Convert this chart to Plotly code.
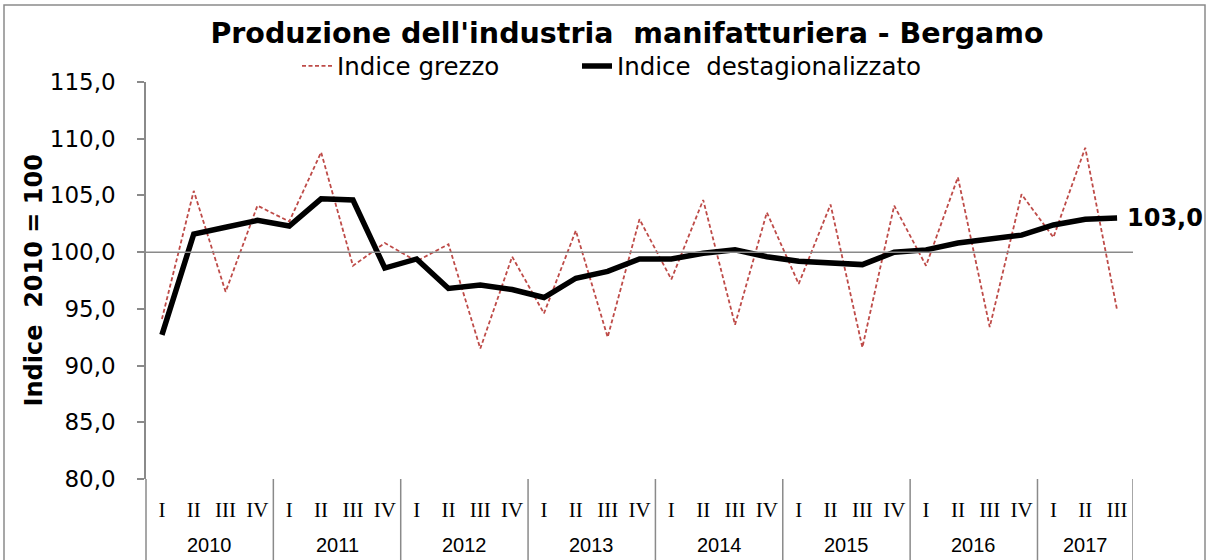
import plotly.graph_objects as go

# ---- data ----
YEARS = ["2010", "2011", "2012", "2013", "2014", "2015", "2016", "2017"]
QUARTERS_PER_YEAR = [4, 4, 4, 4, 4, 4, 4, 3]
QUARTER_LABELS = ["I", "II", "III", "IV"]

indice_grezzo = [94.1, 105.4, 96.5, 104.1, 102.7, 108.8, 98.8, 100.8, 99.2, 100.7,
                 91.5, 99.6, 94.6, 101.9, 92.5, 102.9, 97.6, 104.6, 93.6, 103.5,
                 97.2, 104.2, 91.6, 104.1, 98.8, 106.6, 93.4, 105.1, 101.3, 109.2, 94.9]
indice_destag = [92.7, 101.6, 102.2, 102.8, 102.3, 104.7, 104.6, 98.6, 99.4, 96.8,
                 97.1, 96.7, 96.0, 97.7, 98.3, 99.4, 99.4, 99.9, 100.2, 99.6,
                 99.2, 99.1, 98.9, 100.0, 100.2, 100.8, 101.2, 101.5, 102.4, 102.9, 103.0]
BASE = 100

# ---- derived categories ----
quarters = []
year_centers = []
dividers = []
pos = 0
for y, n in zip(YEARS, QUARTERS_PER_YEAR):
    quarters += QUARTER_LABELS[:n]
    year_centers.append(pos + (n - 1) / 2)
    pos += n
    dividers.append(pos - 0.5)
xs = list(range(len(quarters)))

SANS = "DejaVu Sans, Verdana, sans-serif"
SERIF = "Liberation Serif, Times New Roman, serif"
GRAY = "#8a8a8a"
RED = "#BE4B48"

fig = go.Figure()
fig.add_trace(go.Scatter(x=xs, y=indice_grezzo, mode="lines", name="Indice grezzo",
                         legendwidth=235,
                         line=dict(color=RED, width=1.8, dash="4px,2.5px")))
fig.add_trace(go.Scatter(x=xs, y=indice_destag, mode="lines",
                         name="Indice\u00a0 destagionalizzato", legendwidth=330,
                         line=dict(color="black", width=5.5)))

W, H = 1207, 560
L, R, T, B = 146, 74, 82, 81
pw, ph = W - L - R, H - T - B

def px_x(p):
    return (p - L) / pw

def px_y(p):
    return (H - B - p) / ph

shapes = []
# base line at 100
shapes.append(dict(type="line", xref="paper", yref="y", x0=0, x1=1, y0=BASE, y1=BASE,
                   line=dict(color=GRAY, width=1.5)))
# y axis extension below plot
shapes.append(dict(type="line", xref="paper", yref="paper", x0=0, x1=0, y0=0, y1=px_y(565),
                   line=dict(color=GRAY, width=1.5)))
# year dividers
for d in dividers:
    shapes.append(dict(type="line", xref="x", yref="paper", x0=d, x1=d, y0=0, y1=px_y(565),
                       line=dict(color=GRAY, width=1.5)))
# outer border
shapes.append(dict(type="rect", xref="paper", yref="paper", x0=px_x(4), x1=px_x(1205),
                   y0=px_y(570), y1=px_y(5), line=dict(color=GRAY, width=1.5)))

annotations = []
for yr, c in zip(YEARS, year_centers):
    annotations.append(dict(x=c, y=px_y(545), xref="x", yref="paper", text=yr,
                            showarrow=False, xanchor="center", yanchor="middle",
                            font=dict(family="Liberation Sans, Tahoma, sans-serif", size=20, color="black")))
# last value label
annotations.append(dict(x=xs[-1], y=indice_destag[-1], xref="x", yref="y",
                        text=f"{indice_destag[-1]:.1f}".replace(".", ","),
                        showarrow=False, xanchor="left", yanchor="middle", xshift=8,
                        font=dict(family=SANS, size=24, color="black", weight="bold")))
# y-axis title
annotations.append(dict(x=px_x(33), y=0.5, xref="paper", yref="paper",
                        text="Indice\u00a0 2010 = 100", textangle=-90, showarrow=False,
                        xanchor="center", yanchor="middle",
                        font=dict(family=SANS, size=24, color="black", weight="bold")))

fig.update_layout(
    width=W, height=H,
    margin=dict(l=L, r=R, t=T, b=B, autoexpand=False),
    paper_bgcolor="white", plot_bgcolor="white",
    separators=",.",
    title=dict(text="Produzione dell'industria\u00a0 manifatturiera - Bergamo",
               x=627 / W, xanchor="center", y=1 - 33 / H, yanchor="middle",
               xref="container", yref="container",
               font=dict(family=SANS, size=28.5, color="black", weight="bold")),
    showlegend=True,
    legend=dict(orientation="h", x=px_x(297), xanchor="left", y=px_y(66), yanchor="middle",
                font=dict(family=SANS, size=24.5, color="black"),
                bgcolor="rgba(0,0,0,0)", borderwidth=0, itemclick=False),
    xaxis=dict(range=[-0.5, len(xs) - 0.5], tickmode="array", tickvals=xs, ticktext=quarters,
               showgrid=False, zeroline=False, showline=False, ticks="",
               ticklabelstandoff=16,
               tickfont=dict(family=SERIF, size=21, color="black")),
    yaxis=dict(range=[80, 115], dtick=5, tick0=80, tickformat=".1f", showgrid=False,
               zeroline=False, showline=True, linecolor=GRAY, linewidth=1.5,
               ticks="outside", ticklen=7, tickcolor=GRAY, tickwidth=1.5,
               ticklabelstandoff=17,
               tickfont=dict(family=SANS, size=23, color="black")),
    shapes=shapes, annotations=annotations,
)

fig.write_html("out.html", config={"displayModeBar": False},
               post_script="document.body.style.margin='0';")
